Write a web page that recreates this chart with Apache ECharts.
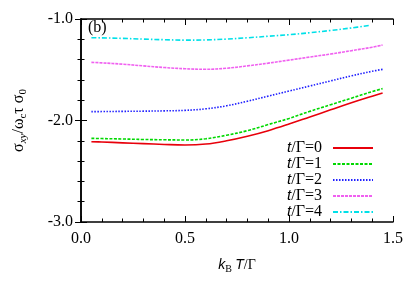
<!DOCTYPE html>
<html><head><meta charset="utf-8">
<script src="https://cdn.jsdelivr.net/npm/echarts@6/dist/echarts.min.js"></script>
<style>html,body{margin:0;padding:0;background:#fff}#c{width:409px;height:286px}</style>
</head><body><div id="c"></div>
<script>
const kT = [0.05,0.1,0.2,0.3,0.4,0.5,0.6,0.7,0.8,0.9,1.0,1.1,1.2,1.3,1.4,1.45];
const kT4 = [0.05,0.1,0.2,0.3,0.4,0.5,0.6,0.7,0.8,0.9,1.0,1.1,1.2,1.3,1.39];
const t0 = [-2.209,-2.212,-2.220,-2.228,-2.236,-2.241,-2.232,-2.200,-2.155,-2.100,-2.035,-1.965,-1.895,-1.825,-1.760,-1.729];
const t1 = [-2.176,-2.178,-2.182,-2.187,-2.190,-2.192,-2.180,-2.145,-2.100,-2.040,-1.980,-1.910,-1.845,-1.780,-1.715,-1.686];
const t2 = [-1.913,-1.912,-1.910,-1.908,-1.905,-1.900,-1.885,-1.855,-1.810,-1.760,-1.710,-1.660,-1.610,-1.560,-1.515,-1.496];
const t3 = [-1.427,-1.432,-1.445,-1.462,-1.478,-1.490,-1.495,-1.485,-1.462,-1.435,-1.405,-1.375,-1.345,-1.312,-1.278,-1.256];
const t4 = [-1.184,-1.186,-1.191,-1.198,-1.204,-1.208,-1.206,-1.198,-1.185,-1.170,-1.155,-1.135,-1.113,-1.088,-1.062];
const names = ['t/Γ=0','t/Γ=1','t/Γ=2','t/Γ=3','t/Γ=4'];
const xTicks = [0.0,0.5,1.0,1.5];
const yTicks = [-3.0,-2.0,-1.0];

const F = 'Liberation Serif';
const FS = 'Liberation Sans';
const pair = (xs, ys) => xs.map((x,i)=>[x, ys[i]]);
const styles = [
  {color:'#e8000b', type:'solid'},
  {color:'#00d800', type:[3,1.5]},
  {color:'#2020ff', type:[1.5,1.5]},
  {color:'#f060f0', type:[3,1]},
  {color:'#00e0e8', type:[5,2,1.5,2]}
];
const datas = [pair(kT,t0),pair(kT,t1),pair(kT,t2),pair(kT,t3),pair(kT4,t4)];
const series = datas.map((d,i)=>({
  name: names[i], type:'line', data:d, smooth:0.4, showSymbol:false, symbol:'none',
  lineStyle:{color:styles[i].color, width:1.6, type:styles[i].type},
  itemStyle:{color:styles[i].color}, animation:false
}));

const axisCommon = {
  axisLine:{show:true, lineStyle:{color:'#000', width:1.5}},
  axisTick:{show:true, inside:true, length:6, lineStyle:{color:'#000', width:1}},
  minorTick:{show:true, splitNumber:5, length:3.5, lineStyle:{color:'#000', width:1}},
  splitLine:{show:false}
};
const richX = {
  n:{fontFamily:F, fontSize:14, color:'#000', lineHeight:18},
  i:{fontFamily:FS, fontSize:14, fontStyle:'italic', color:'#000', lineHeight:18},
  s:{fontFamily:F, fontSize:10, color:'#000', verticalAlign:'bottom', lineHeight:10}
};
const richY = {
  n:{fontFamily:F, fontSize:16, color:'#000', lineHeight:20},
  s:{fontFamily:F, fontSize:11, color:'#000', verticalAlign:'bottom', lineHeight:11},
  si:{fontFamily:F, fontSize:11, fontStyle:'italic', color:'#000', verticalAlign:'bottom', lineHeight:11}
};
const yName = '{n|σ}{si|xy}{n|/ω}{s|c}{n|τ σ}{s|0}';

const chart = echarts.init(document.getElementById('c'));
chart.setOption({
  animation:false,
  grid:{left:81, right:16, top:19, bottom:64},
  legend:{
    data:names, right:30, top:135, orient:'vertical', align:'right',
    itemWidth:40, itemHeight:14, itemGap:0,
    itemStyle:{opacity:0},
    formatter: (n)=>'{i|t}{n|' + n.slice(1) + '}',
    textStyle:{fontFamily:F, fontSize:16, color:'#000',
      rich:{i:{fontFamily:FS, fontSize:15, fontStyle:'italic', color:'#000', lineHeight:14},
            n:{fontFamily:F, fontSize:16, color:'#000', padding:[0,6,0,0], lineHeight:14}}}
  },
  xAxis:[
    Object.assign({type:'value', min:0, max:1.5, interval:0.5, position:'bottom',
      axisLabel:{fontFamily:F, fontSize:16, color:'#000', margin:9, formatter:v=>v.toFixed(1), showMaxLabel:true},
      name:'{i|k}{s|B}{n| }{i|T}{n|/Γ}', nameLocation:'middle', nameGap:34,
      nameTextStyle:{rich:richX}}, axisCommon),
    Object.assign({type:'value', min:0, max:1.5, interval:0.5, position:'top', axisLabel:{show:false}}, axisCommon)
  ],
  yAxis:[
    Object.assign({type:'value', min:-3, max:-1, interval:1, position:'left',
      axisLabel:{fontFamily:F, fontSize:16, color:'#000', margin:8, formatter:v=>v.toFixed(1)},
      name:yName, nameLocation:'middle', nameGap:52, nameRotate:90,
      nameTextStyle:{rich:richY}}, axisCommon),
    Object.assign({type:'value', min:-3, max:-1, interval:1, position:'right', axisLabel:{show:false}}, axisCommon)
  ],
  graphic:[{type:'text', left:88, top:20, style:{text:'(b)', fontFamily:F, fontSize:16, fill:'#000'}}],
  series: series
});
</script></body></html>
